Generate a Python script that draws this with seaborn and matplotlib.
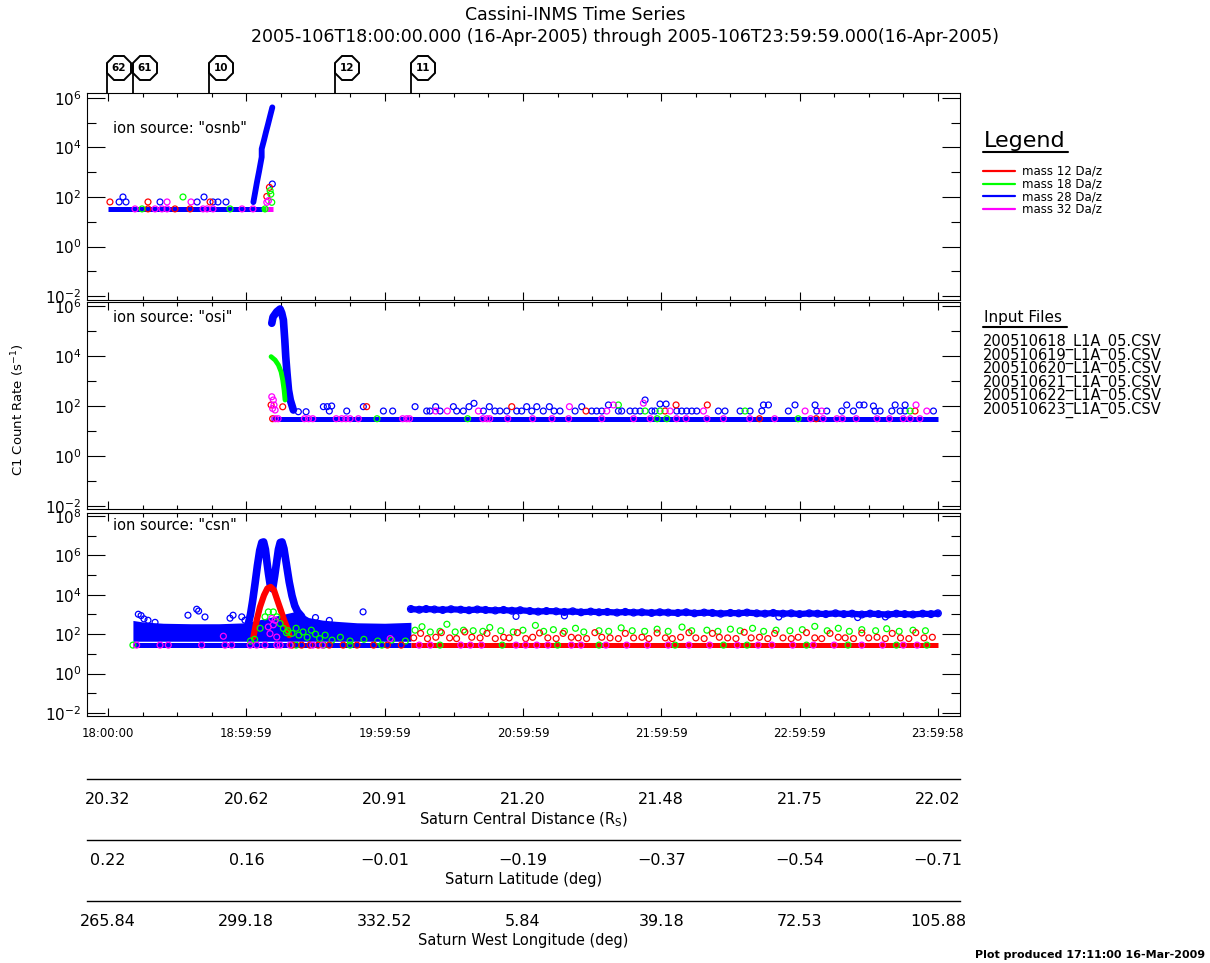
import matplotlib
matplotlib.use("Agg")
import matplotlib.pyplot as plt
import matplotlib.ticker as mticker
import matplotlib.transforms as mtransforms
from matplotlib.lines import Line2D
import numpy as np
import seaborn as sns

RED, GREEN, BLUE, MAGENTA = "#ff0000", "#00ff00", "#0000ff", "#ff00ff"

# ========================
# Axis annotations
# ========================
hour_ticks = [0, 1, 2, 3, 4, 5, 6]          # hours after 18:00:00 UT
ut_labels = ["18:00:00", "18:59:59", "19:59:59", "20:59:59",
             "21:59:59", "22:59:59", "23:59:58"]
distance_rs = [20.32, 20.62, 20.91, 21.20, 21.48, 21.75, 22.02]
latitude_deg = [0.22, 0.16, -0.01, -0.19, -0.37, -0.54, -0.71]
west_lon_deg = [265.84, 299.18, 332.52, 5.84, 39.18, 72.53, 105.88]

event_ids = ["62", "61", "10", "12", "11"]
event_hours = [-0.009, 0.179, 0.733, 1.641, 2.191]

ion_sources = ["osnb", "osi", "csn"]
mass_labels = ["mass 12 Da/z", "mass 18 Da/z", "mass 28 Da/z", "mass 32 Da/z"]
mass_colors = [RED, GREEN, BLUE, MAGENTA]
input_files = ["200510618_L1A_05.CSV", "200510619_L1A_05.CSV", "200510620_L1A_05.CSV",
               "200510621_L1A_05.CSV", "200510622_L1A_05.CSV", "200510623_L1A_05.CSV"]

# ========================
# Panel 1 : ion source "osnb"   (hour, count rate)
# ========================
osnb_base_blue = [(0.0, 33), (1.11, 33)]
osnb_base_green = [(1.11, 33), (1.14, 33)]
osnb_base_mag = [(1.14, 33), (1.19, 33)]
osnb_rise_blue = [(1.051, 62), (1.063, 145), (1.077, 400), (1.092, 1070), (1.111, 4070),
                  (1.111, 8700), (1.128, 20000), (1.142, 41700), (1.157, 87000),
                  (1.171, 178000), (1.188, 417000)]
osnb_blue_pts = [(0.080, 63), (0.108, 100), (0.130, 63), (0.376, 63), (0.644, 63), (0.694, 100),
                 (0.759, 63), (0.795, 63), (0.853, 63), (1.188, 335)]
osnb_red_pts = [(0.014, 63), (0.289, 63), (0.738, 63), (1.148, 105), (1.167, 245),
                (0.289, 33), (0.484, 33), (0.593, 33)]
osnb_green_pts = [(0.542, 100), (1.172, 180), (1.177, 130), (1.184, 61),
                  (0.246, 33), (0.882, 33), (1.135, 33)]
osnb_mag_pts = [(0.427, 63), (0.600, 63), (1.148, 61), (1.160, 71),
                (0.195, 33), (0.340, 33), (0.390, 33), (0.427, 33), (0.687, 33),
                (0.716, 33), (0.759, 33), (0.969, 33), (1.048, 33)]

# ========================
# Panel 2 : ion source "osi"
# ========================
osi_base_blue = [(1.18, 31), (6.0, 31)]
osi_peak_blue = [(1.184, 204000), (1.193, 363000), (1.220, 590000), (1.244, 760000),
                 (1.256, 525000), (1.268, 275000), (1.273, 110000), (1.278, 43700),
                 (1.285, 9400), (1.294, 2090), (1.305, 437), (1.318, 174), (1.340, 69)]
osi_peak_green = [(1.179, 9400), (1.208, 6900), (1.232, 4370), (1.251, 2350),
                  (1.263, 1100), (1.273, 437), (1.280, 174)]
osi_blue_pts = [(1.376, 59), (1.432, 59), (1.557, 94), (1.585, 94), (1.600, 63), (1.617, 100),
                (1.726, 63), (1.846, 94), (1.991, 63), (2.058, 63), (2.220, 94), (2.304, 63),
                (2.328, 63), (2.369, 94), (2.401, 63), (2.497, 94), (2.521, 63), (2.569, 63),
                (2.610, 94), (2.646, 128), (2.714, 63), (2.757, 94), (2.798, 63), (2.834, 63),
                (2.883, 63), (2.955, 63), (2.991, 63), (3.027, 94), (3.064, 63), (3.100, 94),
                (3.147, 63), (3.191, 94), (3.225, 63), (3.268, 63), (3.377, 63), (3.425, 94),
                (3.497, 63), (3.533, 63), (3.570, 63), (3.618, 110), (3.690, 63), (3.714, 63),
                (3.774, 63), (3.811, 63), (3.847, 63), (3.883, 174), (3.931, 63), (3.955, 63),
                (3.991, 120), (4.035, 120), (4.112, 63), (4.148, 63), (4.184, 63), (4.221, 63),
                (4.257, 63), (4.413, 63), (4.461, 63), (4.570, 63), (4.642, 63), (4.727, 63),
                (4.739, 110), (4.775, 110), (4.919, 63), (4.967, 110), (5.112, 110), (5.124, 63),
                (5.197, 63), (5.305, 63), (5.341, 110), (5.389, 63), (5.432, 110), (5.466, 110),
                (5.534, 100), (5.546, 63), (5.582, 63), (5.667, 63), (5.691, 110), (5.727, 63),
                (5.763, 110), (5.763, 63), (5.968, 63)]
osi_mag_pts = [(1.184, 234), (1.195, 174), (1.200, 110), (1.190, 80), (1.208, 69),
               (2.369, 63), (2.453, 63), (2.678, 63), (3.336, 94), (3.606, 63), (3.654, 110),
               (3.871, 130), (4.064, 63), (4.305, 63), (5.040, 63), (5.160, 63), (5.842, 110),
               (5.920, 63),
               (1.21, 31), (1.23, 31), (1.42, 31), (1.45, 31), (1.48, 31), (1.65, 31), (1.69, 31),
               (1.72, 31), (1.75, 31), (1.81, 31), (2.13, 31), (2.16, 31), (2.18, 31), (2.71, 31),
               (2.74, 31), (2.76, 31), (2.89, 31), (3.07, 31), (3.21, 31), (3.33, 31), (3.57, 31),
               (3.80, 31), (3.92, 31), (4.11, 31), (4.18, 31), (4.33, 31), (4.45, 31), (4.64, 31),
               (4.82, 31), (5.08, 31), (5.17, 31), (5.27, 31), (5.31, 31), (5.41, 31), (5.56, 31),
               (5.65, 31), (5.75, 31), (5.80, 31), (5.87, 31)]
osi_red_pts = [(1.179, 110), (1.263, 93), (1.870, 94), (2.919, 94), (3.456, 63), (4.027, 63),
               (4.107, 110), (4.333, 110), (5.835, 63), (1.19, 31), (4.71, 31), (5.12, 31)]
osi_green_pts = [(3.690, 110), (3.883, 63), (3.991, 63), (4.606, 63), (5.799, 63),
                 (1.945, 31), (2.60, 31), (3.97, 31), (4.04, 31), (4.99, 31)]

# ========================
# Panel 3 : ion source "csn"
# ========================
csn_band_hours = [0.18, 0.25, 0.40, 0.60, 0.80, 1.00, 1.37, 1.45, 1.55, 1.65, 1.80, 2.00, 2.19]
csn_band_low = [44, 44, 44, 44, 44, 44, 44, 44, 44, 44, 44, 44, 44]
csn_band_high = [500, 420, 360, 340, 340, 380, 1500, 700, 520, 450, 380, 360, 400]
csn_base_blue = [(0.18, 28), (2.19, 28)]
csn_base_red = [(2.19, 28), (6.0, 28)]
csn_peak_blue = [(1.015, 350), (1.030, 1000), (1.045, 4500), (1.063, 37000), (1.080, 300000),
                 (1.097, 1.8e6), (1.112, 4.5e6), (1.125, 4.8e6), (1.138, 2.0e6), (1.150, 400000),
                 (1.160, 120000), (1.175, 25000), (1.190, 20000), (1.205, 90000), (1.218, 400000),
                 (1.232, 2.0e6), (1.245, 4.5e6), (1.258, 4.8e6), (1.272, 2.2e6), (1.290, 350000),
                 (1.310, 45000), (1.330, 9000), (1.350, 2800), (1.370, 1400), (1.400, 800)]
csn_peak_red = [(1.051, 72), (1.075, 513), (1.099, 2450), (1.128, 9550), (1.152, 20900),
                (1.176, 25000), (1.200, 17000), (1.224, 5370), (1.249, 1660), (1.273, 513),
                (1.297, 195), (1.311, 89)]
csn_late_blue = [(2.19, 1900), (2.25, 1750), (2.30, 1900), (2.36, 1800), (2.42, 1700), (2.48, 1850),
                 (2.55, 1750), (2.61, 1650), (2.67, 1800), (2.73, 1700), (2.80, 1600), (2.86, 1700),
                 (2.92, 1550), (2.98, 1650), (3.05, 1500), (3.11, 1400), (3.17, 1500), (3.24, 1450),
                 (3.30, 1350), (3.36, 1450), (3.42, 1300), (3.49, 1400), (3.55, 1300), (3.61, 1350),
                 (3.68, 1250), (3.74, 1350), (3.80, 1250), (3.86, 1300), (3.93, 1200), (3.99, 1300),
                 (4.05, 1250), (4.12, 1200), (4.18, 1300), (4.24, 1150), (4.31, 1250), (4.37, 1200),
                 (4.43, 1100), (4.50, 1200), (4.56, 1150), (4.62, 1250), (4.69, 1150), (4.75, 1100),
                 (4.81, 1200), (4.88, 1100), (4.94, 1150), (5.00, 1050), (5.07, 1150), (5.13, 1100),
                 (5.19, 1050), (5.26, 1150), (5.32, 1050), (5.38, 1100), (5.45, 1000), (5.51, 1100),
                 (5.57, 1050), (5.64, 1000), (5.70, 1100), (5.76, 1050), (5.82, 1000), (5.89, 1100),
                 (5.95, 1050), (6.00, 1150)]
csn_blue_pts = [(0.219, 1030), (0.239, 880), (0.260, 600), (0.289, 510), (0.340, 400), (0.578, 920),
                (0.641, 1850), (0.655, 1500), (0.701, 750), (0.882, 650), (0.904, 920), (0.967, 760),
                (0.990, 510), (1.500, 700), (1.600, 500), (1.844, 1360),
                (2.95, 800), (3.30, 850), (4.85, 750), (5.42, 700), (5.62, 750)]
csn_green_pts = [(1.100, 200), (1.135, 760), (1.159, 1350), (1.195, 1350), (1.220, 760),
                 (1.244, 350), (1.268, 195), (1.290, 120), (1.30, 150), (1.33, 110), (1.36, 200),
                 (1.38, 90), (1.41, 130), (1.44, 70), (1.47, 160), (1.50, 100), (1.53, 60),
                 (1.57, 90), (1.62, 50), (1.68, 70), (1.75, 45), (1.85, 55), (1.95, 45), (2.05, 50),
                 (2.15, 45), (1.03, 45), (1.06, 55),
                 (0.18, 28), (1.36, 28), (1.56, 28), (1.75, 28), (1.98, 28),
                 (2.22, 160), (2.27, 240), (2.33, 130), (2.40, 140), (2.45, 320), (2.51, 130),
                 (2.57, 160), (2.64, 150), (2.71, 140), (2.76, 220), (2.84, 150), (2.93, 130),
                 (3.00, 160), (3.09, 280), (3.15, 140), (3.22, 170), (3.30, 140), (3.38, 200),
                 (3.44, 130), (3.55, 150), (3.62, 140), (3.71, 210), (3.79, 150), (3.88, 140),
                 (3.97, 180), (4.05, 140), (4.15, 230), (4.22, 150), (4.33, 160), (4.41, 140),
                 (4.50, 180), (4.57, 150), (4.66, 200), (4.74, 140), (4.83, 160), (4.93, 150),
                 (5.02, 170), (5.11, 250), (5.20, 150), (5.28, 200), (5.36, 140), (5.45, 170),
                 (5.55, 150), (5.63, 190), (5.72, 140), (5.82, 160), (5.91, 150),
                 (2.40, 28), (2.85, 28), (3.25, 28), (3.55, 28), (4.10, 28), (4.45, 28),
                 (4.62, 28), (5.05, 28), (5.35, 28), (5.70, 28), (5.92, 28)]
csn_red_pts = [(1.33, 28), (1.40, 28), (1.46, 28), (1.52, 28), (1.60, 28), (1.70, 28),
               (1.80, 28), (1.92, 28), (2.02, 28), (2.12, 28),
               (2.21, 65), (2.26, 110), (2.31, 60), (2.37, 70), (2.41, 120), (2.47, 65),
               (2.52, 60), (2.58, 130), (2.63, 70), (2.69, 65), (2.74, 110), (2.80, 60),
               (2.86, 70), (2.90, 65), (2.96, 120), (3.02, 60), (3.07, 70), (3.12, 115),
               (3.18, 65), (3.24, 60), (3.29, 110), (3.35, 70), (3.40, 65), (3.46, 60),
               (3.52, 120), (3.57, 70), (3.63, 65), (3.69, 60), (3.74, 110), (3.80, 65),
               (3.86, 70), (3.91, 60), (3.97, 115), (4.03, 65), (4.08, 60), (4.14, 70),
               (4.20, 120), (4.25, 65), (4.31, 60), (4.37, 110), (4.42, 70), (4.48, 65),
               (4.54, 60), (4.60, 125), (4.65, 65), (4.71, 70), (4.77, 60), (4.82, 110),
               (4.88, 65), (4.94, 60), (4.99, 70), (5.05, 120), (5.11, 65), (5.16, 60),
               (5.22, 110), (5.28, 70), (5.33, 65), (5.39, 60), (5.45, 115), (5.50, 65),
               (5.56, 70), (5.62, 60), (5.67, 110), (5.73, 65), (5.79, 60), (5.84, 120),
               (5.90, 65), (5.96, 70)]
csn_mag_pts = [(0.207, 28), (0.376, 28), (0.436, 28), (0.677, 28), (0.846, 28), (0.894, 28),
               (1.027, 28), (1.075, 28), (1.135, 28), (1.220, 28), (1.244, 28), (1.316, 28),
               (1.48, 28), (1.55, 28), (0.834, 79), (2.04, 60), (1.159, 235), (1.184, 630),
               (1.208, 510), (1.171, 107), (1.220, 72), (1.195, 300),
               (2.25, 28), (2.33, 28), (2.55, 28), (2.62, 28), (2.70, 28), (2.95, 28), (3.02, 28),
               (3.10, 28), (3.18, 28), (3.35, 28), (3.42, 28), (3.60, 28), (3.75, 28), (3.90, 28),
               (4.05, 28), (4.20, 28), (4.35, 28), (4.55, 28), (4.70, 28), (4.80, 28), (4.95, 28),
               (5.10, 28), (5.25, 28), (5.45, 28), (5.60, 28), (5.75, 28), (5.85, 28)]

# ========================
# Helpers
# ========================
XLIM = (-0.152, 6.16)
FIG_W, FIG_H = 1210, 963


def circles(ax, pairs, color, size=18, z=4):
    h, v = zip(*pairs)
    sns.scatterplot(x=list(h), y=list(v), ax=ax, marker="o", s=size, color=color,
                    facecolor="none", edgecolor=color, linewidth=0.9, legend=False, zorder=z)


def trace(ax, pairs, color, width, cap="round", z=3):
    h, v = zip(*pairs)
    sns.lineplot(x=list(h), y=list(v), ax=ax, color=color, linewidth=width, sort=False,
                 estimator=None, legend=False, solid_capstyle=cap, zorder=z)


def setup_panel(ax, ylo, yhi, top_dec, source, label_y):
    ax.set_yscale("log")
    ax.set_xlim(*XLIM)
    ax.set_ylim(10.0 ** ylo, 10.0 ** yhi)
    ax.yaxis.set_major_locator(mticker.FixedLocator([10.0 ** k for k in range(-2, top_dec + 1, 2)]))
    ax.yaxis.set_minor_locator(mticker.FixedLocator([10.0 ** k for k in range(-1, top_dec, 2)]))
    ax.yaxis.set_major_formatter(mticker.FuncFormatter(
        lambda val, pos: r"$10^{%d}$" % int(round(np.log10(val)))))
    ax.yaxis.set_minor_formatter(mticker.NullFormatter())
    ax.xaxis.set_major_locator(mticker.FixedLocator(hour_ticks))
    ax.xaxis.set_minor_locator(mticker.MultipleLocator(0.25))
    ax.tick_params(axis="y", which="major", direction="in", length=13, width=0.8,
                   left=True, right=True, labelsize=11, pad=4)
    ax.tick_params(axis="y", which="minor", direction="in", length=6.5, width=0.8,
                   left=True, right=True)
    ax.tick_params(axis="x", which="major", direction="in", length=5.5, width=0.8,
                   top=True, bottom=True, labelbottom=False)
    ax.tick_params(axis="x", which="minor", direction="in", length=3, width=0.8,
                   top=True, bottom=True)
    for s in ax.spines.values():
        s.set_linewidth(0.8)
        s.set_color("black")
    ax.text(0.030, label_y, 'ion source: "%s"' % source, transform=ax.transAxes,
            fontsize=10.5, ha="left", va="center")


def px_axes(left, top, right, bottom):
    return [left / FIG_W, 1 - bottom / FIG_H, (right - left) / FIG_W, (bottom - top) / FIG_H]


# ========================
# Figure
# ========================
sns.set_style("white", {"axes.edgecolor": "black", "text.color": "black",
                        "xtick.color": "black", "ytick.color": "black",
                        "axes.labelcolor": "black"})
plt.rcParams["font.family"] = ["DejaVu Sans"]
plt.rcParams["mathtext.fontset"] = "dejavusans"

fig = plt.figure(figsize=(12.1, 9.63), dpi=100)
ax1 = fig.add_axes(px_axes(87, 93, 960, 299.5))
ax2 = fig.add_axes(px_axes(87, 302.5, 960, 509))
ax3 = fig.add_axes(px_axes(87, 513, 960, 716))

setup_panel(ax1, -2.14, 6.20, 6, ion_sources[0], 0.83)
setup_panel(ax2, -2.12, 6.14, 6, ion_sources[1], 0.925)
setup_panel(ax3, -2.15, 8.15, 8, ion_sources[2], 0.94)

# panel 1
trace(ax1, osnb_base_blue, BLUE, 3.6, cap="butt", z=2)
trace(ax1, osnb_base_green, GREEN, 3.6, cap="butt", z=2)
trace(ax1, osnb_base_mag, MAGENTA, 3.6, cap="butt", z=2)
trace(ax1, osnb_rise_blue, BLUE, 4.2)
circles(ax1, osnb_blue_pts, BLUE)
circles(ax1, osnb_red_pts, RED)
circles(ax1, osnb_green_pts, GREEN)
circles(ax1, osnb_mag_pts, MAGENTA)
ax1.set_xlabel("")
ax1.set_ylabel("")

# panel 2
trace(ax2, osi_base_blue, BLUE, 3.6, cap="butt", z=2)
trace(ax2, osi_peak_blue, BLUE, 5.5)
trace(ax2, osi_peak_green, GREEN, 3.5)
circles(ax2, osi_blue_pts, BLUE)
circles(ax2, osi_red_pts, RED)
circles(ax2, osi_green_pts, GREEN)
circles(ax2, osi_mag_pts, MAGENTA)
ax2.set_xlabel("")
ax2.set_ylabel("")

# panel 3
ax3.fill_between(csn_band_hours, csn_band_low, csn_band_high, color=BLUE, lw=0, zorder=1)
trace(ax3, csn_base_blue, BLUE, 3.6, cap="butt", z=2)
trace(ax3, csn_base_red, RED, 3.6, cap="butt", z=2)
trace(ax3, csn_late_blue, BLUE, 4.5, z=2)
circles(ax3, csn_late_blue, BLUE, size=24)
trace(ax3, csn_peak_blue, BLUE, 5.5)
trace(ax3, csn_peak_red, RED, 4.5)
circles(ax3, csn_blue_pts, BLUE)
circles(ax3, csn_green_pts, GREEN)
circles(ax3, csn_red_pts, RED)
circles(ax3, csn_mag_pts, MAGENTA)
ax3.set_ylabel("")

ax3.set_xticklabels(ut_labels)
ax3.tick_params(axis="x", which="major", labelbottom=True, labelsize=8.5, pad=8)
ax3.set_xlabel("Universal Time (hours scet)", fontsize=7.5, labelpad=3)

# orbit event markers above the top panel
trans = mtransforms.blended_transform_factory(ax1.transData, ax1.transAxes)
for t, lab in zip(event_hours, event_ids):
    ax1.plot([t, t], [1.0, 1.13], transform=trans, color="black", lw=1.3,
             clip_on=False, zorder=5)
    ax1.plot([t + 0.087], [1.121], transform=trans, marker="8", ms=19, mfc="white",
             mec="black", mew=1.4, clip_on=False, zorder=6)
    ax1.text(t + 0.087, 1.121, lab, transform=trans, ha="center", va="center",
             fontsize=7.5, fontweight="bold", clip_on=False, zorder=7)


# ephemeris axes under the plot
def ephemeris_axis(y_px, values, title):
    ax = fig.add_axes([87 / FIG_W, 1 - y_px / FIG_H, 873 / FIG_W, 0.0001])
    ax.set_xlim(*XLIM)
    for s in ["top", "left", "right"]:
        ax.spines[s].set_visible(False)
    ax.spines["bottom"].set_linewidth(1.0)
    ax.set_yticks([])
    ax.set_xticks(hour_ticks)
    ax.set_xticklabels([("%.2f" % v).replace("-", "\u2212") for v in values])
    ax.tick_params(axis="x", direction="in", length=5, width=0.8, pad=9, labelsize=11.5)
    ax.set_xlabel(title, fontsize=10.5, labelpad=3)
    ax.patch.set_visible(False)


ephemeris_axis(779, distance_rs, r"Saturn Central Distance (R$_{\mathrm{S}}$)")
ephemeris_axis(840, latitude_deg, "Saturn Latitude (deg)")
ephemeris_axis(901, west_lon_deg, "Saturn West Longitude (deg)")

# titles and side labels
fig.text(575 / FIG_W, 1 - 15 / FIG_H, "Cassini-INMS Time Series", ha="center", va="center",
         fontsize=12.5)
fig.text(625 / FIG_W, 1 - 37 / FIG_H,
         "2005-106T18:00:00.000 (16-Apr-2005) through 2005-106T23:59:59.000(16-Apr-2005)",
         ha="center", va="center", fontsize=12.5)
fig.text(18 / FIG_W, 1 - 410 / FIG_H, r"C1 Count Rate (s$^{-1}$)", rotation=90,
         ha="center", va="center", fontsize=9.5)
fig.text(1205 / FIG_W, 1 - 955 / FIG_H, "Plot produced 17:11:00 16-Mar-2009",
         ha="right", va="center", fontsize=8, fontweight="bold")

# legend block
fig.text(984 / FIG_W, 1 - 141 / FIG_H, "Legend", ha="left", va="center", fontsize=16)
fig.add_artist(Line2D([983 / FIG_W, 1068 / FIG_W], [1 - 152 / FIG_H] * 2,
                      transform=fig.transFigure, color="black", lw=1.5))
for k, (lab, col) in enumerate(zip(mass_labels, mass_colors)):
    yy = 1 - (170.7 + 12.9 * k) / FIG_H
    fig.add_artist(Line2D([983 / FIG_W, 1015 / FIG_W], [yy, yy], transform=fig.transFigure,
                          color=col, lw=1.6))
    fig.text(1022 / FIG_W, yy, lab, ha="left", va="center", fontsize=8.5)

fig.text(984 / FIG_W, 1 - 317 / FIG_H, "Input Files", ha="left", va="center", fontsize=11)
fig.add_artist(Line2D([983 / FIG_W, 1067 / FIG_W], [1 - 327 / FIG_H] * 2,
                      transform=fig.transFigure, color="black", lw=1.5))
for k, name in enumerate(input_files):
    fig.text(983 / FIG_W, 1 - (342 + 13.5 * k) / FIG_H, name, ha="left", va="center",
             fontsize=10.5)

fig.savefig("out.png", dpi=100)
